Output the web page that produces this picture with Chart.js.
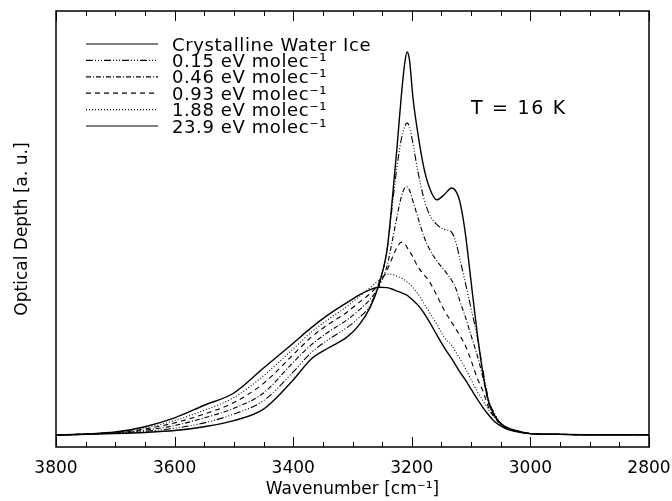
<!DOCTYPE html>
<html>
<head>
<meta charset="utf-8">
<script src="https://cdn.jsdelivr.net/npm/chart.js@4.4.1/dist/chart.umd.min.js"></script>
<style>
  body { margin: 0; background: #fff; }
  #wrap { width: 672px; height: 501px; }
</style>
</head>
<body>
<div id="wrap"><canvas id="spectra"></canvas></div>
<script>
// Water ice OH-stretch band vs. irradiation dose

const wavenumbers = [3800, 3750, 3700, 3650, 3600, 3550, 3500, 3450, 3400, 3370, 3340, 3310, 3290, 3270, 3255, 3242, 3235, 3225, 3218, 3212, 3208, 3204, 3198, 3190, 3180, 3170, 3158, 3145, 3133, 3125, 3119, 3110, 3100, 3090, 3080, 3070, 3060, 3050, 3040, 3020, 3000, 2950, 2900, 2850, 2800];

const crystalline = [0.000, 0.002, 0.004, 0.007, 0.012, 0.022, 0.038, 0.068, 0.144, 0.198, 0.228, 0.255, 0.285, 0.334, 0.395, 0.480, 0.580, 0.750, 0.880, 0.970, 1.000, 0.980, 0.880, 0.790, 0.700, 0.645, 0.614, 0.628, 0.645, 0.635, 0.610, 0.530, 0.400, 0.270, 0.160, 0.085, 0.050, 0.030, 0.020, 0.010, 0.004, 0.002, 0.001, 0.001, 0.001];

const dose015 = [0.000, 0.002, 0.005, 0.010, 0.018, 0.032, 0.055, 0.090, 0.165, 0.215, 0.250, 0.280, 0.305, 0.340, 0.400, 0.480, 0.570, 0.700, 0.770, 0.805, 0.815, 0.805, 0.760, 0.690, 0.620, 0.575, 0.550, 0.537, 0.530, 0.500, 0.460, 0.400, 0.330, 0.260, 0.170, 0.090, 0.055, 0.032, 0.020, 0.010, 0.004, 0.002, 0.001, 0.001, 0.001];

const dose046 = [0.000, 0.003, 0.006, 0.013, 0.025, 0.045, 0.070, 0.110, 0.190, 0.235, 0.270, 0.300, 0.325, 0.355, 0.390, 0.440, 0.490, 0.570, 0.620, 0.645, 0.648, 0.640, 0.610, 0.570, 0.520, 0.485, 0.455, 0.430, 0.405, 0.380, 0.350, 0.310, 0.260, 0.210, 0.150, 0.080, 0.050, 0.030, 0.020, 0.010, 0.004, 0.002, 0.001, 0.001, 0.001];

const dose093 = [0.000, 0.003, 0.007, 0.016, 0.032, 0.055, 0.085, 0.135, 0.210, 0.255, 0.290, 0.320, 0.345, 0.370, 0.395, 0.430, 0.455, 0.490, 0.503, 0.500, 0.490, 0.480, 0.465, 0.440, 0.420, 0.400, 0.365, 0.325, 0.295, 0.275, 0.260, 0.235, 0.195, 0.150, 0.115, 0.070, 0.045, 0.028, 0.018, 0.009, 0.004, 0.002, 0.001, 0.001, 0.001];

const dose188 = [0.000, 0.003, 0.008, 0.019, 0.038, 0.065, 0.098, 0.155, 0.225, 0.268, 0.303, 0.335, 0.360, 0.385, 0.405, 0.420, 0.420, 0.415, 0.410, 0.405, 0.400, 0.395, 0.385, 0.370, 0.345, 0.320, 0.290, 0.255, 0.235, 0.215, 0.200, 0.175, 0.145, 0.115, 0.090, 0.065, 0.045, 0.026, 0.017, 0.008, 0.004, 0.002, 0.001, 0.001, 0.001];

const dose239 = [0.000, 0.003, 0.008, 0.022, 0.045, 0.078, 0.110, 0.175, 0.240, 0.280, 0.315, 0.345, 0.365, 0.380, 0.386, 0.385, 0.382, 0.376, 0.372, 0.368, 0.365, 0.360, 0.352, 0.340, 0.320, 0.295, 0.262, 0.228, 0.200, 0.180, 0.165, 0.145, 0.120, 0.095, 0.072, 0.052, 0.035, 0.024, 0.016, 0.008, 0.004, 0.002, 0.001, 0.001, 0.001];

const seriesLabels = ['Crystalline Water Ice', '0.15 eV molec⁻¹', '0.46 eV molec⁻¹', '0.93 eV molec⁻¹', '1.88 eV molec⁻¹', '23.9 eV molec⁻¹'];
const seriesValues = [crystalline, dose015, dose046, dose093, dose188, dose239];
const seriesDashes = [[], [7, 2, 1, 2, 1, 2, 1, 2], [5, 2, 1, 2], [5, 4], [1, 2], []];

const xMajorTicks = [3800, 3600, 3400, 3200, 3000, 2800];
const xMinorTicks = [3750, 3700, 3650, 3550, 3500, 3450, 3350, 3300, 3250, 3150, 3100, 3050, 2950, 2900, 2850];

const FONT = 'DejaVu Sans';

// box + inward ticks like the IDL original
const frameTicks = {
    id: 'frameTicks',
    afterDatasetsDraw(chart) {
        const { ctx, chartArea: a, scales: { x } } = chart;
        ctx.save();
        ctx.strokeStyle = '#000';
        ctx.lineWidth = 1.5;
        ctx.strokeRect(a.left, a.top, a.right - a.left, a.bottom - a.top);
        ctx.lineWidth = 1;
        ctx.beginPath();
        const tick = (v, len) => {
            const px = Math.round(x.getPixelForValue(v)) + 0.5;
            ctx.moveTo(px, a.bottom);
            ctx.lineTo(px, a.bottom - len);
            ctx.moveTo(px, a.top);
            ctx.lineTo(px, a.top + len);
        };
        xMajorTicks.forEach(v => tick(v, 10));
        xMinorTicks.forEach(v => tick(v, 5));
        ctx.stroke();
        ctx.restore();
    }
};

// legend drawn inside the plot, top-left
const legendLines = {
    id: 'legendLines',
    afterDraw(chart) {
        const { ctx, chartArea: a } = chart;
        ctx.save();
        ctx.fillStyle = '#000';
        ctx.strokeStyle = '#000';
        ctx.font = `18px "${FONT}"`;
        ctx.letterSpacing = '0.6px';
        chart.data.datasets.forEach((ds, i) => {
            const y = a.top + 33 + i * 16.4;
            ctx.setLineDash(ds.borderDash);
            ctx.lineWidth = 1.2;
            ctx.beginPath();
            ctx.moveTo(a.left + 30, y);
            ctx.lineTo(a.left + 102, y);
            ctx.stroke();
            ctx.setLineDash([]);
            ctx.fillText(ds.label, a.left + 116, y + 6.5);
        });
        ctx.font = `19px "${FONT}"`;
        ctx.letterSpacing = '1.7px';
        ctx.fillText('T = 16 K', a.left + 415, a.top + 103);
        ctx.restore();
    }
};

const datasets = seriesLabels.map((label, i) => ({
    label: label,
    data: wavenumbers.map((w, j) => ({ x: w, y: seriesValues[i][j] })),
    borderColor: '#000',
    borderWidth: i === 0 || i === 5 ? 1.4 : 1.1,
    borderDash: seriesDashes[i],
    pointRadius: 0,
    fill: false,
    cubicInterpolationMode: 'monotone'
}));

const chart = new Chart(document.getElementById('spectra'), {
    type: 'line',
    data: { datasets },
    plugins: [frameTicks, legendLines],
    options: {
        responsive: true,
        maintainAspectRatio: false,
        animation: false,
        layout: { padding: { top: 11, right: 23, left: 0, bottom: 0 } },
        plugins: {
            legend: { display: false },
            tooltip: { enabled: false }
        },
        scales: {
            x: {
                type: 'linear',
                reverse: true,
                min: 2800,
                max: 3800,
                afterFit: s => {
                    s.height = 54;
                    s.paddingLeft = 0;
                    s.paddingRight = 0;
                },
                grid: { display: false, drawTicks: false },
                border: { display: false },
                ticks: {
                    stepSize: 200,
                    autoSkip: false,
                    maxRotation: 0,
                    padding: 11,
                    color: '#000',
                    font: { family: FONT, size: 17 },
                    callback: v => String(v)
                },
                title: {
                    display: true,
                    text: 'Wavenumber [cm⁻¹]',
                    color: '#000',
                    font: { family: FONT, size: 17 },
                    padding: { top: 0, bottom: 1 }
                }
            },
            y: {
                min: -0.031,
                max: 1.107,
                afterFit: s => { s.width = 56; },
                grid: { display: false, drawTicks: false },
                border: { display: false },
                ticks: { display: false },
                title: {
                    display: true,
                    text: 'Optical Depth [a. u.]',
                    color: '#000',
                    font: { family: FONT, size: 17 },
                    padding: { top: 12, bottom: 0 }
                }
            }
        }
    }
});
</script>
</body>
</html>
